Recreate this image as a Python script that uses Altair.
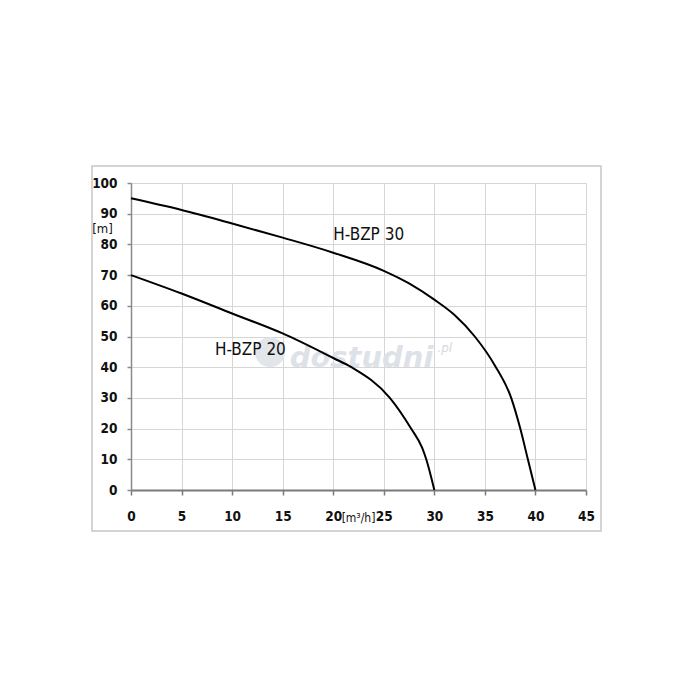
"""Pump curves H-BZP 20 / H-BZP 30 (head vs flow)"""

import pandas as pd
import altair as alt

# flow [m3/h] and head [m]
bzp30_flow = [0, 5, 10, 15, 20, 25, 27.5, 30, 32, 34, 36, 37.6, 38.5, 39.25, 40]
bzp30_head = [95, 91.2, 86.8, 82.2, 77.3, 71.4, 67.3, 62, 57, 50, 40.5, 30, 20, 10, 0]

bzp20_flow = [0, 5, 10, 15, 20, 21.8, 25.6, 27.7, 28.8, 29.2, 30]
bzp20_head = [70, 64, 57.5, 51, 43, 40, 30, 20, 13.7, 10, 0]

series_names = ["H-BZP 30", "H-BZP 20"]
label_flow = [20.0, 8.3]
label_head = [83.1, 45.6]

x_ticks = list(range(0, 50, 5))
y_ticks = list(range(0, 110, 10))

FONT = "DejaVu Sans Condensed, Liberation Sans, sans-serif"

curves = pd.concat([
    pd.DataFrame({"flow": bzp30_flow, "head": bzp30_head, "pump": series_names[0]}),
    pd.DataFrame({"flow": bzp20_flow, "head": bzp20_head, "pump": series_names[1]}),
], ignore_index=True)
labels = pd.DataFrame({"flow": label_flow, "head": label_head, "name": series_names})

x_axis = alt.Axis(
    values=x_ticks, grid=True, gridColor="#d6d6d6", gridWidth=1,
    domainColor="#7a7a7a", domainWidth=2, tickColor="#7a7a7a", tickSize=5, tickWidth=1.5,
    labelFont=FONT, labelFontSize=13.5, labelFontWeight="bold", labelColor="#111",
    labelPadding=14, labelFlush=False, labelOverlap=False,
    title="[m³/h]", titleFont=FONT, titleFontSize=12, titleFontWeight="normal",
    titleColor="#111", titleX=227, titleY=27, titleAlign="center", titleBaseline="middle",
)
y_axis = alt.Axis(
    values=y_ticks, grid=True, gridColor="#d6d6d6", gridWidth=1,
    domainColor="#8a8a8a", domainWidth=1.5, tickColor="#8a8a8a", tickSize=4, tickWidth=1.5,
    labelFont=FONT, labelFontSize=13.5, labelFontWeight="bold", labelColor="#111",
    labelPadding=10, labelFlush=False, labelOverlap=False,
    title="[m]", titleFont=FONT, titleFontSize=13, titleFontWeight="normal",
    titleColor="#111", titleAngle=0, titleX=-29, titleY=45,
    titleAlign="center", titleBaseline="middle",
)

X = alt.X("flow:Q", scale=alt.Scale(domain=[0, 45], nice=False, zero=False), axis=x_axis)
Y = alt.Y("head:Q", scale=alt.Scale(domain=[0, 100], nice=False), axis=y_axis)

# frame round the whole figure
frame = alt.Chart(pd.DataFrame({"a": [0]})).mark_rect(
    fillOpacity=0, stroke="#c6c6c6", strokeWidth=1.5
).encode(x=alt.value(-39), x2=alt.value(470), y=alt.value(-17), y2=alt.value(348))

# faint site watermark
wm_drop = alt.Chart(pd.DataFrame({"flow": [13.75], "head": [44.9]})).mark_point(
    shape="circle", filled=True, color="#e2e6eb", size=900, opacity=1
).encode(x=X, y=Y)
wm_text = alt.Chart(pd.DataFrame({"flow": [22.8], "head": [40.2], "t": ["dostudni"]})).mark_text(
    font="DejaVu Sans", fontSize=29, fontWeight="bold", fontStyle="italic",
    color="#dde2e8", align="center", baseline="alphabetic"
).encode(x=X, y=Y, text="t:N")
wm_pl = alt.Chart(pd.DataFrame({"flow": [30.3], "head": [45.0], "t": [".pl"]})).mark_text(
    font="DejaVu Sans", fontSize=12, fontStyle="italic", color="#d3d8de",
    align="left", baseline="alphabetic"
).encode(x=X, y=Y, text="t:N")

lines = alt.Chart(curves).mark_line(
    color="#000", strokeWidth=2, interpolate="monotone"
).encode(x=X, y=Y, detail="pump:N")

names = alt.Chart(labels).mark_text(
    font=FONT, fontSize=17, color="#111", align="left", baseline="middle"
).encode(x=X, y=Y, text="name:N")

chart = (frame + wm_drop + wm_text + wm_pl + lines + names).properties(
    width=455,
    height=307,
    autosize=alt.AutoSizeParams(type="none"),
    padding={"left": 123, "top": 175, "right": 100, "bottom": 150},
).configure_view(stroke="transparent").configure(background="white")

chart.save("out.html", embed_options={"renderer": "svg", "actions": False})
